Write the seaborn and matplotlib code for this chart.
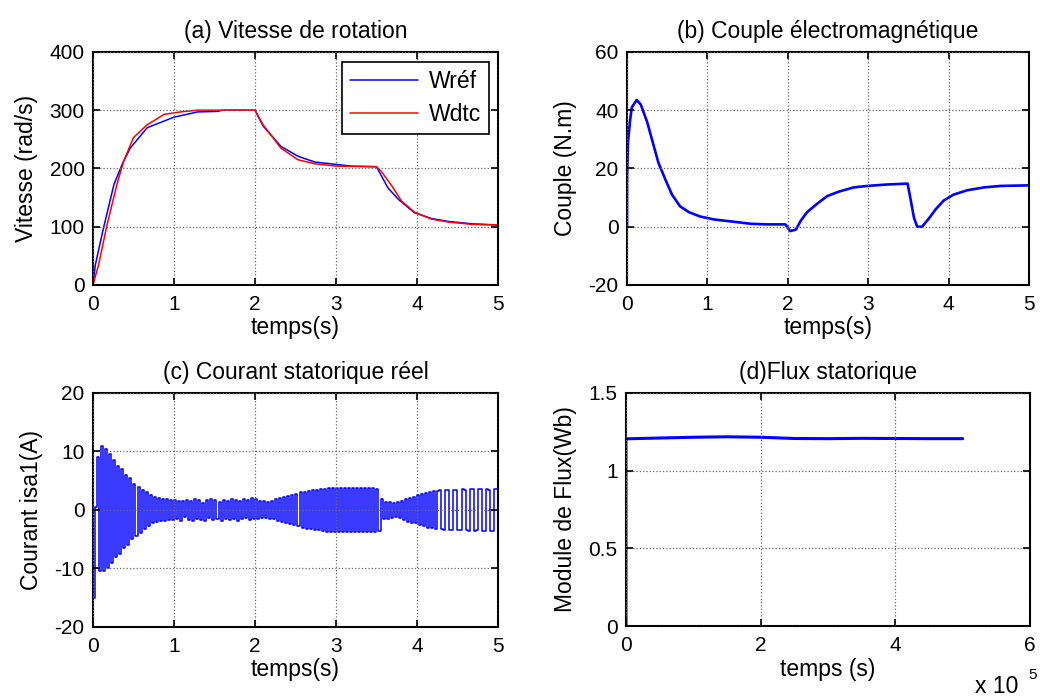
import numpy as np
import pandas as pd
import matplotlib
matplotlib.use("Agg")
import matplotlib.pyplot as plt
import seaborn as sns

# ---------------- data ----------------
# (a) speed
w_ref_t = [0, 0.03, 0.13, 0.26, 0.36, 0.46, 0.67, 1.0, 1.29, 1.54, 1.6, 2.0, 2.1, 2.32, 2.53, 2.74, 3.0, 3.19, 3.5,
           3.64, 3.77, 3.97, 4.18, 4.39, 4.68, 5.0]
w_ref = [0, 35, 98, 173, 207, 235, 270, 288, 297, 298, 300, 300, 273, 238, 221, 211, 207, 204, 203,
         167, 147, 124, 114, 109, 105, 103]
w_dtc_t = [0, 0.07, 0.17, 0.30, 0.38, 0.50, 0.67, 0.88, 1.08, 1.29, 2.0, 2.1, 2.32, 2.53, 2.74, 3.0, 3.5,
           3.56, 3.69, 3.81, 3.97, 4.18, 4.39, 4.68, 5.0]
w_dtc = [0, 35, 101, 175, 213, 253, 275, 293, 297, 300, 300, 275, 235, 215, 208, 204, 203,
         195, 170, 144, 125, 113, 108, 104, 103]

# (b) electromagnetic torque
ce_t = [0, 0.001, 0.012, 0.04, 0.06, 0.12, 0.17, 0.25, 0.31, 0.39, 0.48, 0.56, 0.66, 0.77, 0.91, 1.08, 1.33,
        1.54, 1.74, 1.97, 2.03, 2.10, 2.16, 2.24, 2.37, 2.49, 2.63, 2.82, 2.99, 3.24, 3.49, 3.53, 3.57,
        3.61, 3.67, 3.76, 3.84, 3.94, 4.06, 4.23, 4.44, 4.65, 5.0]
ce = [0, 17, 29, 37, 41, 43.5, 42, 36, 30, 22, 16, 11, 7, 5, 3.5, 2.5, 1.7,
      1.0, 0.8, 0.8, -1.5, -1.0, 2, 5, 8, 10.5, 12, 13.5, 14, 14.5, 14.8, 9, 3,
      0, 0, 3, 6, 9, 11, 12.5, 13.5, 14, 14.2]

# (c) stator current isa1 (values every 0.025 s)
isa = [
    -15, 0.5, 9, -10.5, 11, -10.5, 10.5, -10, 9.5, -9,
    8.5, -8, 7.5, -7.5, 7, -6.5, 6, -6, 5.5, -5,
    4.5, -4.5, 4, -4, 3.5, -3.2, 3, -2.8, 2.5, -2.3,
    2.2, -2, 2, -1.9, 1.8, -1.8, 1.8, -1.7, 1.7, -1.7,
    1.7, -1.6, 1.5, -1.8, 1.6, -1.2, 1.7, -1.7, 1.6, -1.8,
    1.8, -1.5, 1.7, -1.7, 1.2, -1.8, 1.7, -1.4, 1.8, -1.7,
    1.7, -1.6, 1.4, -1.8, 1.7, -1.5, 1.6, -1.7, 1.8, -1.6,
    1.7, -1.8, 1.5, -1.6, 1.8, -1.4, 1.7, -1.7, 2.0, -1.6,
    1.8, -1.5, 1.6, -1.4, 1.5, -1.3, 1.4, -1.5, 1.6, -1.5,
    1.8, -1.9, 2.0, -2.1, 2.2, -2.3, 2.4, -2.4, 2.6, -2.6,
    2.8, -2.8, 3.0, -3.0, 3.1, -3.2, 3.3, -3.3, 3.4, -3.4,
    3.5, -3.5, 3.6, -3.6, 3.6, -3.7, 3.7, -3.7, 3.7, -3.7,
    3.7, -3.7, 3.7, -3.7, 3.7, -3.7, 3.7, -3.7, 3.7, -3.7,
    3.7, -3.7, 3.7, -3.7, 3.7, -3.7, 3.7, -3.7, 3.7, -3.7,
    3.6, -3.6, 1.8, -1.5, 1.4, -1.6, 1.3, -1.4, 1.2, -1.2,
    1.4, -1.3, 1.6, -1.7, 1.8, -2.0, 2.1, -2.2, 2.3, -2.3,
    2.5, -2.6, 2.7, -2.7, 2.9, -3.0, 3.1, -3.1, 3.2, -3.3,
    3.3, 3.4, -3.3, -3.4, 3.5, 3.4, -3.4, -3.5, 3.5, 3.5,
    -3.5, -3.5, 3.6, 3.5, -3.5, -3.6, 3.6, 3.6, -3.6, -3.5,
    3.6, 3.6, -3.6, -3.6, 3.6, 3.5, -3.6, -3.6, 3.6, 3.6,
    -3.6,
]
isa_t = np.linspace(0, 5, len(isa))

# (d) stator flux magnitude (x in samples)
flux_t = [0, 0, 0.5e5, 1.0e5, 1.5e5, 2.0e5, 2.5e5, 3.0e5, 3.5e5, 4.0e5, 4.5e5, 5.0e5]
flux = [0, 1.205, 1.21, 1.215, 1.218, 1.215, 1.207, 1.206, 1.208, 1.207, 1.206, 1.206]

# ---------------- style ----------------
sns.set_theme(style="white")
plt.rcParams["font.family"] = ["Liberation Sans", "DejaVu Sans"]
plt.rcParams["font.size"] = 15
plt.rcParams["axes.unicode_minus"] = False
plt.rcParams["text.color"] = "black"
plt.rcParams["axes.labelcolor"] = "black"

FS = 15      # tick labels
LFS = 16.5   # labels, titles, legend
BLUE = "#0000FF"
RED = "#FF0000"

fig = plt.figure(figsize=(10.4, 7.0), dpi=100)
fig.patch.set_facecolor("white")

ax_a = fig.add_axes([0.0894, 0.5929, 0.3894, 0.3329])
ax_b = fig.add_axes([0.6029, 0.5929, 0.3865, 0.3329])
ax_c = fig.add_axes([0.0894, 0.1043, 0.3894, 0.3343])
ax_d = fig.add_axes([0.6019, 0.1057, 0.3885, 0.3329])


def matlab_style(ax):
    ax.set_facecolor("white")
    for s in ax.spines.values():
        s.set_visible(True)
        s.set_color("black")
        s.set_linewidth(1.5)
    ax.tick_params(direction="in", length=5, width=1.2, top=True, right=True,
                   bottom=True, left=True, labelsize=FS, colors="black")
    ax.tick_params(axis="x", pad=7)
    ax.tick_params(axis="y", pad=6)
    ax.grid(True, linestyle=":", color="#666666", linewidth=0.9)
    ax.set_axisbelow(False)


def labels(ax, title, xl, yl):
    ax.set_title(title, fontsize=LFS, pad=10, color="black")
    ax.set_xlabel(xl, fontsize=LFS, labelpad=2)
    ax.set_ylabel(yl, fontsize=LFS, labelpad=8)


# (a)
dfa_ref = pd.DataFrame({"t": w_ref_t, "w": w_ref})
dfa_dtc = pd.DataFrame({"t": w_dtc_t, "w": w_dtc})
sns.lineplot(data=dfa_ref, x="t", y="w", ax=ax_a, color=BLUE, lw=1.1, label="Wréf",
             estimator=None, sort=False)
sns.lineplot(data=dfa_dtc, x="t", y="w", ax=ax_a, color=RED, lw=1.1, label="Wdtc",
             estimator=None, sort=False)
ax_a.set_xlim(0, 5)
ax_a.set_ylim(0, 400)
ax_a.set_xticks([0, 1, 2, 3, 4, 5])
ax_a.set_yticks([0, 100, 200, 300, 400])
labels(ax_a, "(a) Vitesse de rotation", "temps(s)", "Vitesse (rad/s)")
matlab_style(ax_a)
leg = ax_a.legend(loc="upper right", bbox_to_anchor=(0.978, 0.957), frameon=True, fancybox=False,
                  fontsize=LFS, handlelength=3.0, borderpad=0.35, labelspacing=0.45, handletextpad=0.45,
                  borderaxespad=0.0)
leg.get_frame().set_edgecolor("black")
leg.get_frame().set_linewidth(1.2)
leg.get_frame().set_alpha(1)
for txt in leg.get_texts():
    txt.set_color("black")

# (b)
dfb = pd.DataFrame({"t": ce_t, "ce": ce})
sns.lineplot(data=dfb, x="t", y="ce", ax=ax_b, color=BLUE, lw=1.9, estimator=None, sort=False)
ax_b.set_xlim(0, 5)
ax_b.set_ylim(-20, 60)
ax_b.set_xticks([0, 1, 2, 3, 4, 5])
ax_b.set_yticks([-20, 0, 20, 40, 60])
labels(ax_b, "(b) Couple électromagnétique", "temps(s)", "Couple (N.m)")
matlab_style(ax_b)

# (c)
dfc = pd.DataFrame({"t": isa_t, "i": isa})
sns.lineplot(data=dfc, x="t", y="i", ax=ax_c, color=BLUE, lw=1.1, estimator=None, sort=False,
             drawstyle="steps-post")
ax_c.set_xlim(0, 5)
ax_c.set_ylim(-20, 20)
ax_c.set_xticks([0, 1, 2, 3, 4, 5])
ax_c.set_yticks([-20, -10, 0, 10, 20])
labels(ax_c, "(c) Courant statorique réel", "temps(s)", "Courant isa1(A)")
matlab_style(ax_c)

# (d)
dfd = pd.DataFrame({"t": flux_t, "f": flux})
sns.lineplot(data=dfd, x="t", y="f", ax=ax_d, color=BLUE, lw=2.2, estimator=None, sort=False)
ax_d.set_xlim(0, 6e5)
ax_d.set_ylim(0, 1.5)
ax_d.set_xticks([0, 2e5, 4e5, 6e5])
ax_d.set_xticklabels(["0", "2", "4", "6"])
ax_d.set_yticks([0, 0.5, 1, 1.5])
ax_d.set_yticklabels(["0", "0.5", "1", "1.5"])
labels(ax_d, "(d)Flux statorique", "temps (s)", "Module de Flux(Wb)")
matlab_style(ax_d)
fig.text(0.9375, 0.003, "x 10", fontsize=LFS, ha="left", va="bottom")
fig.text(0.9885, 0.026, "5", fontsize=11, ha="left", va="bottom")

fig.savefig("out.png", dpi=100, facecolor="white")
